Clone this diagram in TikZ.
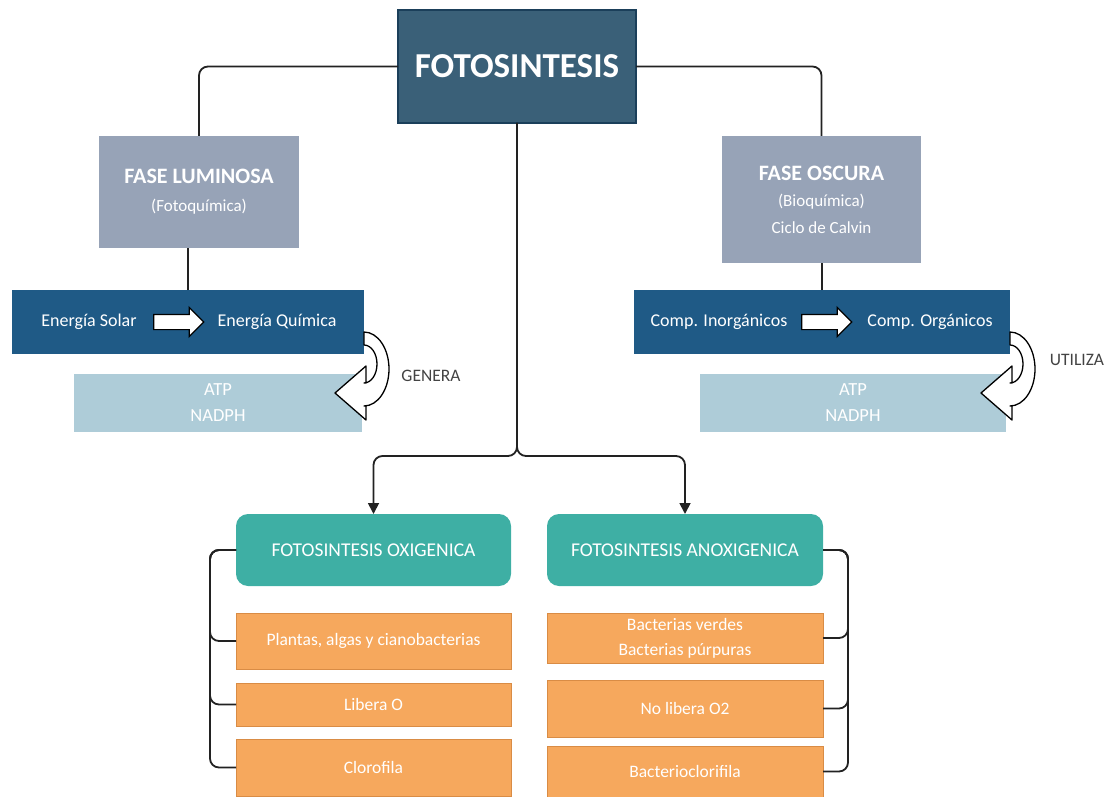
\documentclass[tikz,border=0pt]{standalone}
\usepackage{fontspec}
\setmainfont{Carlito}
\usetikzlibrary{arrows.meta,shapes.arrows}

\definecolor{raiz}{HTML}{3A6078}
\definecolor{raizborde}{HTML}{1B3F5A}
\definecolor{fase}{HTML}{97A3B7}
\definecolor{azul}{HTML}{1F5A86}
\definecolor{celeste}{HTML}{AECCD8}
\definecolor{turquesa}{HTML}{3EAFA4}
\definecolor{naranja}{HTML}{F6A85D}
\definecolor{naranjaborde}{HTML}{D98C45}
\definecolor{linea}{HTML}{222222}

% flecha en U (genera / utiliza)
\newcommand{\vuelta}[1]{%
  \draw[giro] (#1) arc[start angle=-90, end angle=90, x radius=25, y radius=37]
    -- ++(2,0) -- ++(0,14) -- ++(-31,-27) -- ++(31,-27) -- ++(0,17) -- ++(-2,0)
    arc[start angle=90, end angle=-90, x radius=13, y radius=19] -- cycle;}

\begin{document}
\begin{tikzpicture}[x=1pt,y=-1pt,
  caja/.style={text=white, align=center, inner sep=0pt, outer sep=0pt},
  conn/.style={draw=linea, line width=1.8pt, rounded corners=9pt},
  punta/.style={-{Triangle[length=11pt,width=11pt]}},
  flecha/.style={shape=single arrow, draw=black, fill=white, line width=1.2pt,
    minimum height=50pt, single arrow head extend=7pt, inner xsep=0pt,
    inner ysep=7pt, single arrow head indent=0pt},
  giro/.style={draw=black, fill=white, line width=1.3pt, line join=round},
  naranjacaja/.style={caja, fill=naranja, draw=naranjaborde, line width=1pt,
    minimum width=275pt, font=\fontsize{17.5}{20}\selectfont}]

\useasboundingbox (0,0) rectangle (1111,797);

% raiz
\node[caja, fill=raiz, draw=raizborde, line width=1.2pt, minimum width=238pt,
  minimum height=113pt, font=\fontsize{35}{40}\selectfont\bfseries]
  (root) at (517,66.5) {FOTOSINTESIS};

% fases
\node[caja, fill=fase, minimum width=200pt, minimum height=112pt,
  font=\fontsize{17}{28}\selectfont]
  (lum) at (199,192) {{\fontsize{22}{28}\selectfont\bfseries FASE LUMINOSA}\\
  (Fotoquímica)};
\node[caja, fill=fase, minimum width=199pt, minimum height=127pt,
  font=\fontsize{17}{26.5}\selectfont]
  (osc) at (821.5,199.5) {{\fontsize{22}{26.5}\selectfont\bfseries FASE OSCURA}\\
  (Bioquímica)\\Ciclo de Calvin};

% energia / compuestos
\node[caja, fill=azul, minimum width=352pt, minimum height=64pt] (ener) at (188,322) {};
\node[caja, font=\fontsize{18}{20}\selectfont] (solar) at (89,322) {Energía Solar};
\node[caja, font=\fontsize{18}{20}\selectfont] (quim) at (277,322) {Energía Química};
\node[flecha] (f1) at (175,322) {};

\node[caja, fill=azul, minimum width=376pt, minimum height=64pt] (comp) at (822,322) {};
\node[caja, font=\fontsize{18}{20}\selectfont] (inorg) at (719,322) {Comp. Inorgánicos};
\node[caja, font=\fontsize{18}{20}\selectfont] (org) at (930,322) {Comp. Orgánicos};
\node[flecha] (f2) at (823,322) {};

% ATP NADPH
\node[caja, fill=celeste, minimum width=288pt, minimum height=58pt,
  font=\fontsize{18.5}{26}\selectfont] (atp1) at (218,403) {ATP\\NADPH};
\node[caja, fill=celeste, minimum width=306pt, minimum height=58pt,
  font=\fontsize{18.5}{26}\selectfont] (atp2) at (853,403) {ATP\\NADPH};

\vuelta{[yshift=-10pt]ener.east}
\vuelta{[yshift=-10pt]comp.east}
\node[text=linea!85, font=\fontsize{17.5}{20}\selectfont] (genera) at (431,376) {GENERA};
\node[text=linea!85, font=\fontsize{17.5}{20}\selectfont] (utiliza) at (1077,360) {UTILIZA};

% tipos
\node[caja, fill=turquesa, rounded corners=12pt, minimum width=275pt, minimum height=72pt,
  font=\fontsize{19.5}{22}\selectfont] (oxi) at (373.5,550) {FOTOSINTESIS OXIGENICA};
\node[caja, fill=turquesa, rounded corners=12pt, minimum width=276pt, minimum height=72pt,
  font=\fontsize{19.5}{22}\selectfont] (anoxi) at (685,550) {FOTOSINTESIS ANOXIGENICA};

\node[naranjacaja, minimum height=56pt] (p1) at (373.5,641) {Plantas, algas y cianobacterias};
\node[naranjacaja, minimum height=43pt] (p2) at (373.5,704.5) {Libera O};
\node[naranjacaja, minimum height=57pt] (p3) at (373.5,767.5) {Clorofila};

\node[naranjacaja, minimum width=276pt, minimum height=50pt, align=center,
  font=\fontsize{17.5}{25}\selectfont] (q1) at (685,638) {Bacterias verdes\\Bacterias púrpuras};
\node[naranjacaja, minimum width=276pt, minimum height=57pt] (q2) at (685,708.5) {No libera O2};
\node[naranjacaja, minimum width=276pt, minimum height=51pt] (q3) at (685,771.5) {Bacterioclorifila};

% conectores
\draw[conn] (root.west) -| (lum.north);
\draw[conn] (root.east) -| (osc.north);
\draw[conn] (ener.north) -- (ener.north |- lum.south);
\draw[conn] (comp.north) -- (comp.north |- osc.south);
\draw[conn, punta] (root.south) -- ++(0,333) -| (oxi.north);
\draw[conn, punta] (root.south) -- ++(0,333) -| (anoxi.north);

\foreach \n in {p1,p2,p3}
  \draw[conn] (oxi.west) -- ++(-26,0) |- (\n.west);
\foreach \n in {q1,q2,q3}
  \draw[conn] (anoxi.east) -- ++(25,0) |- (\n.east);

\end{tikzpicture}
\end{document}
